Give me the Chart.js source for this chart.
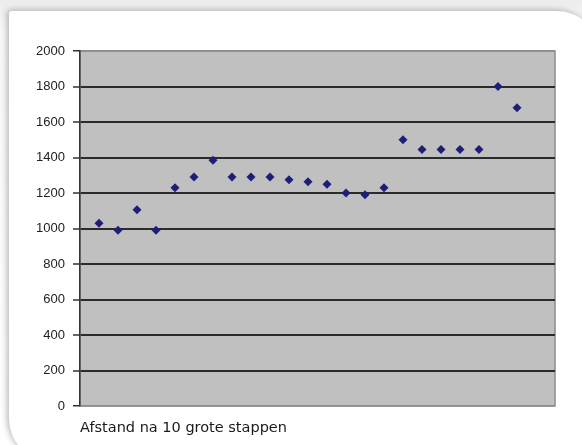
<!DOCTYPE html>
<html>
<head>
<meta charset="utf-8">
<script src="https://cdn.jsdelivr.net/npm/chart.js@4"></script>
<style>
  html, body { margin: 0; padding: 0; }
  body {
    width: 582px; height: 445px; overflow: hidden; position: relative;
    background: linear-gradient(#ececec, #f8f8f8 30px, #ffffff);
  }
  .card {
    position: absolute; left: 9px; top: 11px; width: 590px; height: 450px;
    background: #fff;
    border-radius: 3px 42px 3px 42px;
    box-shadow: -2px -1px 6px rgba(0,0,0,0.28);
  }
  canvas { position: absolute; left: 0; top: 0; }
</style>
</head>
<body>
<div class="card"></div>
<canvas id="chart" width="582" height="445"></canvas>
<script>
// Afstand na 10 grote stappen (per meting)
const metingen = [1,2,3,4,5,6,7,8,9,10,11,12,13,14,15,16,17,18,19,20,21,22,23];
const afstand = [1030,990,1105,990,1230,1290,1385,1290,1290,1290,1275,1263,1250,1200,1190,1230,1500,1445,1445,1445,1445,1800,1680];
const yTicks = [0,200,400,600,800,1000,1200,1400,1600,1800,2000];
const bijschrift = 'Afstand na 10 grote stappen';

// grijze achtergrond van het plotgebied
const plotAchtergrond = {
  id: 'plotAchtergrond',
  beforeDraw(chart) {
    const {ctx, chartArea: a} = chart;
    ctx.save();
    ctx.fillStyle = '#c0c0c0';
    ctx.fillRect(a.left, a.top, a.right - a.left, a.bottom - a.top);
    ctx.strokeStyle = '#8c8c8c';
    ctx.lineWidth = 1.5;
    ctx.strokeRect(a.left, a.top, a.right - a.left, a.bottom - a.top);
    ctx.restore();
  }
};

new Chart(document.getElementById('chart'), {
  type: 'scatter',
  data: {
    datasets: [{
      data: metingen.map((m, i) => ({x: m, y: afstand[i]})),
      pointStyle: 'rectRot',
      pointRadius: 4.5,
      pointHoverRadius: 4.5,
      backgroundColor: '#1e1e78',
      borderColor: '#1e1e78',
      borderWidth: 0
    }]
  },
  options: {
    responsive: false,
    animation: false,
    layout: { padding: { top: 51, right: 27, left: 0, bottom: 0 } },
    plugins: {
      legend: { display: false },
      tooltip: { enabled: false }
    },
    scales: {
      x: {
        type: 'linear',
        min: 0,
        max: 25,
        ticks: { display: false },
        grid: { display: false },
        border: { display: false },
        title: {
          display: true,
          text: bijschrift,
          align: 'start',
          color: '#1a1a1a',
          font: { family: "'DejaVu Sans', sans-serif", size: 14.5 },
          padding: { top: 0, bottom: 8 }
        },
        afterFit(scale) { scale.height = 39; }
      },
      y: {
        min: 0,
        max: 2000,
        afterBuildTicks(scale) { scale.ticks = yTicks.map(v => ({value: v})); },
        ticks: {
          color: '#222',
          padding: 8,
          font: { family: "'Liberation Sans', Arial, sans-serif", size: 13 },
          callback: v => String(v)
        },
        grid: {
          color: ctx => (ctx.tick && (ctx.tick.value === 0 || ctx.tick.value === 2000)) ? '#8c8c8c' : '#2b2b2b',
          lineWidth: ctx => (ctx.tick && (ctx.tick.value === 0 || ctx.tick.value === 2000)) ? 1.5 : 2,
          tickColor: '#333',
          tickWidth: 1.5,
          tickLength: 7
        },
        border: { display: true, color: '#333', width: 1.5 },
        afterFit(scale) { scale.width = 80; }
      }
    }
  },
  plugins: [plotAchtergrond]
});
</script>
</body>
</html>
